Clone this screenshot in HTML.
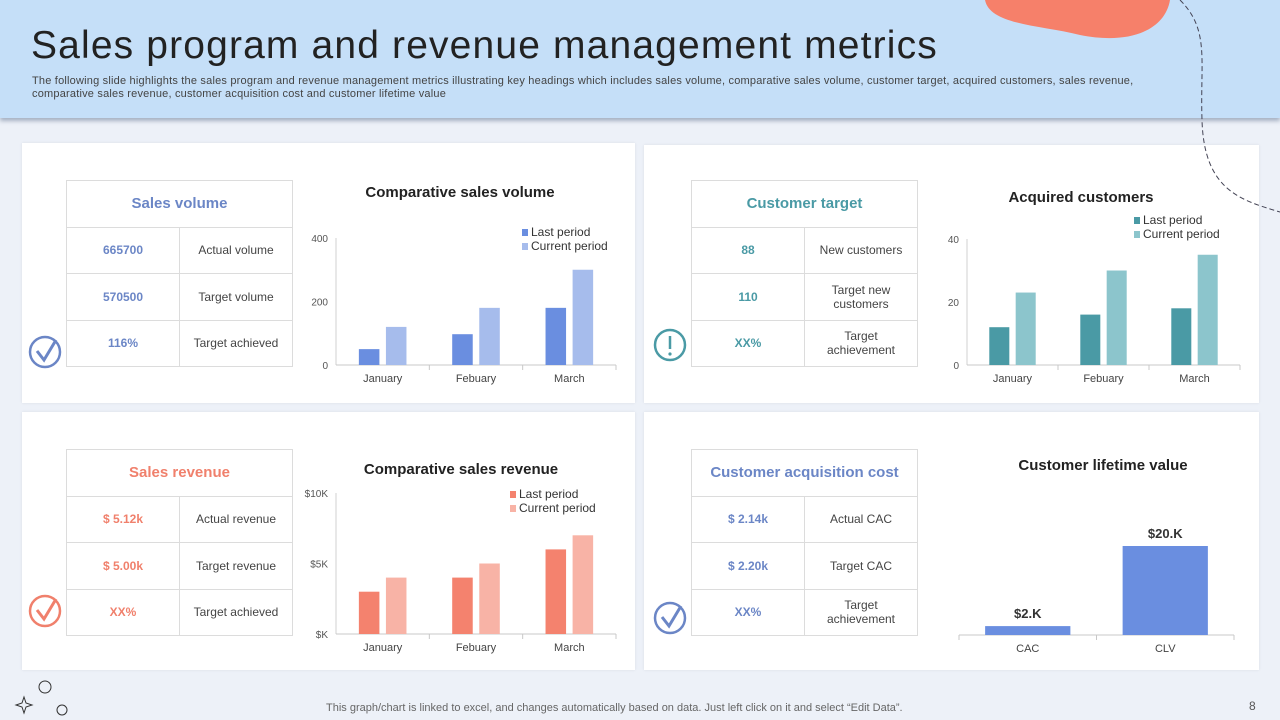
<!DOCTYPE html>
<html><head><meta charset="utf-8">
<style>
*{margin:0;padding:0;box-sizing:border-box}
body{width:1280px;height:720px;overflow:hidden;background:#edf1f8;font-family:"Liberation Sans",sans-serif;position:relative}
.hdr{position:absolute;left:0;top:0;width:1280px;height:118px;background:#c5dff8;box-shadow:0 3px 4px rgba(80,100,130,.45)}
.ttl{position:absolute;left:31px;top:24px;font-size:39px;color:#222;letter-spacing:1.15px;font-weight:normal}
.sub{position:absolute;left:32px;top:75px;width:1165px;font-size:11px;line-height:13px;color:#444;letter-spacing:0.2px}
.panel{position:absolute;background:#fff;box-shadow:0 0 3px rgba(0,0,0,.08)}
table{position:absolute;border-collapse:collapse;font-size:12px;color:#444}
td{border:1px solid #dcdcdc;text-align:center;height:46.5px;line-height:14px}
td.h{font-size:15px;font-weight:bold}
td.v{width:113px;font-weight:bold}
svg{position:absolute;left:0;top:0}
.foot{position:absolute;left:326px;top:702px;font-size:11px;color:#666}
.pg{position:absolute;left:1249px;top:699px;font-size:12px;color:#555}
</style></head><body>
<div class="hdr"></div>
<div class="ttl">Sales program and revenue management metrics</div>
<div class="sub">The following slide highlights the sales program and revenue management metrics illustrating key headings which includes sales volume, comparative sales volume, customer target, acquired customers, sales revenue, comparative sales revenue, customer acquisition cost and customer lifetime value</div>

<div class="panel" style="left:22px;top:143px;width:613px;height:260px"></div>
<div class="panel" style="left:644px;top:145px;width:615px;height:258px"></div>
<div class="panel" style="left:22px;top:412px;width:613px;height:258px"></div>
<div class="panel" style="left:644px;top:412px;width:615px;height:258px"></div>

<table style="left:66px;top:180px;width:227px">
<tr><td colspan="2" class="h" style="color:#6b86c6">Sales volume</td></tr>
<tr><td class="v" style="color:#6b86c6">665700</td><td>Actual volume</td></tr>
<tr><td class="v" style="color:#6b86c6">570500</td><td>Target volume</td></tr>
<tr><td class="v" style="color:#6b86c6">116%</td><td>Target achieved</td></tr></table>
<table style="left:691px;top:180px;width:227px">
<tr><td colspan="2" class="h" style="color:#4a9aa5">Customer target</td></tr>
<tr><td class="v" style="color:#4a9aa5">88</td><td>New customers</td></tr>
<tr><td class="v" style="color:#4a9aa5">110</td><td>Target new<br>customers</td></tr>
<tr><td class="v" style="color:#4a9aa5">XX%</td><td>Target<br>achievement</td></tr></table>
<table style="left:66px;top:449px;width:227px">
<tr><td colspan="2" class="h" style="color:#f0806c">Sales revenue</td></tr>
<tr><td class="v" style="color:#f0806c">$ 5.12k</td><td>Actual revenue</td></tr>
<tr><td class="v" style="color:#f0806c">$ 5.00k</td><td>Target revenue</td></tr>
<tr><td class="v" style="color:#f0806c">XX%</td><td>Target achieved</td></tr></table>
<table style="left:691px;top:449px;width:227px">
<tr><td colspan="2" class="h" style="color:#6b86c6">Customer acquisition cost</td></tr>
<tr><td class="v" style="color:#6b86c6">$ 2.14k</td><td>Actual CAC</td></tr>
<tr><td class="v" style="color:#6b86c6">$ 2.20k</td><td>Target CAC</td></tr>
<tr><td class="v" style="color:#6b86c6">XX%</td><td>Target<br>achievement</td></tr></table>

<svg id="s" width="1280" height="720" font-family="Liberation Sans, sans-serif">
<path d="M985 0 C990 25 1040 25 1080 35 C1130 45 1165 30 1170 0 Z" fill="#f6806a"/>
<path d="M1180 0 C1210 30 1200 60 1202 120 C1204 190 1240 200 1280 212" fill="none" stroke="#445" stroke-dasharray="5,3"/>
<g><circle cx="45" cy="352" r="15" fill="none" stroke="#6b86c6" stroke-width="2.5"/><path d="M37 351 L44 360 L56 340" fill="none" stroke="#6b86c6" stroke-width="3"/></g>
<g><circle cx="670" cy="345" r="15" fill="none" stroke="#4a9aa5" stroke-width="2.5"/><line x1="670" y1="336" x2="670" y2="349" stroke="#4a9aa5" stroke-width="2.5"/><circle cx="670" cy="354" r="1.6" fill="#4a9aa5"/></g>
<g><circle cx="45" cy="611" r="15" fill="none" stroke="#f0806c" stroke-width="2.5"/><path d="M37 610 L44 619 L56 599" fill="none" stroke="#f0806c" stroke-width="3"/></g>
<g><circle cx="670" cy="618" r="15" fill="none" stroke="#6b86c6" stroke-width="2.5"/><path d="M662 617 L669 626 L681 606" fill="none" stroke="#6b86c6" stroke-width="3"/></g>
<g><circle cx="45" cy="687" r="6" fill="none" stroke="#333"/><circle cx="62" cy="710" r="5" fill="none" stroke="#333"/><path d="M24 697 L26 703 L32 705 L26 707 L24 713 L22 707 L16 705 L22 703 Z" fill="none" stroke="#333"/></g>
</svg>
<div class="foot">This graph/chart is linked to excel, and changes automatically based on data. Just left click on it and select “Edit Data”.</div>
<div class="pg">8</div>

<script>
const months = ["January","Febuary","March"];
const volLast = [50,97,180];
const volCurrent = [120,180,300];
const volTicks = ["0","200","400"];
const custLast = [12,16,18];
const custCurrent = [23,30,35];
const custTicks = ["0","20","40"];
const revLast = [3,4,6];
const revCurrent = [4,5,7];
const revTicks = ["$K","$5K","$10K"];
const clvCats = ["CAC","CLV"];
const clvValues = [2,20];
const clvLabels = ["$2.K","$20.K"];

const svg = document.getElementById('s');
const NS = 'http://www.w3.org/2000/svg';
function mk(tag, attrs, parent){const e=document.createElementNS(NS,tag);for(const k in attrs)e.setAttribute(k,attrs[k]);(parent||svg).appendChild(e);return e;}
function txt(x,y,s,attrs,parent){const t=mk('text',Object.assign({x:x,y:y},attrs),parent);t.textContent=s;return t;}

function groupChart(c){
  const g=mk('g',{});
  
  
  const yS=v=>c.y0-(v/c.max)*(c.y0-c.yTop);
  const cw=(c.x1-c.x0)/c.cats.length;
  const tt=txt(c.titleX,c.titleY,c.title,{'font-size':15,'font-weight':'bold','fill':'#222','text-anchor':'middle'},g);
  
  
  mk('line',{x1:c.x0,y1:c.yTop,x2:c.x0,y2:c.y0,stroke:'#d0d0d0'},g);
  mk('line',{x1:c.x0,y1:c.y0,x2:c.x1,y2:c.y0,stroke:'#c8c8c8'},g);
  c.ticks.forEach((t,i)=>{
    const v=c.max*i/(c.ticks.length-1);
    const tl=txt(c.x0-8,yS(v)+4,t,{'font-size':10,'fill':'#555','text-anchor':'end'},g);
    
    
  });
  c.cats.forEach((cat,i)=>{
    mk('line',{x1:c.x0+cw*(i+1),y1:c.y0,x2:c.x0+cw*(i+1),y2:c.y0+5,stroke:'#c8c8c8'},g);
    const cl=txt(c.x0+cw*(i+0.5),c.y0+17,cat,{'font-size':11,'fill':'#444','text-anchor':'middle'},g);
    
    
    const bw=cw*0.22, gap=cw*0.07;
    const cx=c.x0+cw*(i+0.5);
    const b1=mk('rect',{x:cx-gap/2-bw,y:yS(c.a[i]),width:bw,height:c.y0-yS(c.a[i]),fill:c.colA},g);
    
    
    const b2=mk('rect',{x:cx+gap/2,y:yS(c.b[i]),width:bw,height:c.y0-yS(c.b[i]),fill:c.colB},g);
    
    
  });
  [['Last period',c.colA],['Current period',c.colB]].forEach((l,i)=>{
    const lg=mk('g',{},g);
    
    
    mk('rect',{x:c.legX,y:c.legY+i*14-7,width:6,height:7,fill:l[1]},lg);
    txt(c.legX+9,c.legY+i*14,l[0],{'font-size':12,'fill':'#333'},lg);
  });
}
groupChart({name:'comparative-sales-volume-chart',title:'Comparative sales volume',titleX:460,titleY:197,cats:months,a:volLast,b:volCurrent,ticks:volTicks,max:400,x0:336,x1:616,y0:365,yTop:238,colA:'#6a8ee0',colB:'#a6bcec',legX:522,legY:236});
groupChart({name:'acquired-customers-chart',title:'Acquired customers',titleX:1081,titleY:202,cats:months,a:custLast,b:custCurrent,ticks:custTicks,max:40,x0:967,x1:1240,y0:365,yTop:239,colA:'#4a9aa5',colB:'#8cc5cc',legX:1134,legY:224});
groupChart({name:'comparative-sales-revenue-chart',title:'Comparative sales revenue',titleX:461,titleY:474,cats:months,a:revLast,b:revCurrent,ticks:revTicks,max:10,x0:336,x1:616,y0:634,yTop:493,colA:'#f4826e',colB:'#f8b3a6',legX:510,legY:498});

(function(){
  const g=mk('g',{});
  
  
  const x0=959,x1=1234,y0=635,max=20,hMax=89;
  const yS=v=>y0-v/max*hMax;
  const cw=(x1-x0)/clvCats.length;
  const t=txt(1103,470,'Customer lifetime value',{'font-size':15,'font-weight':'bold','fill':'#222','text-anchor':'middle'},g);
  
  
  mk('line',{x1:x0,y1:y0,x2:x1,y2:y0,stroke:'#c8c8c8'},g);
  clvCats.forEach((c,i)=>{
    const cx=x0+cw*(i+0.5), bw=cw*0.62;
    const b=mk('rect',{x:cx-bw/2,y:yS(clvValues[i]),width:bw,height:y0-yS(clvValues[i]),fill:'#6a8ee0'},g);
    
    
    const vl=txt(cx,yS(clvValues[i])-8,clvLabels[i],{'font-size':13,'font-weight':'bold','fill':'#333','text-anchor':'middle'},g);
    
    
    const cl=txt(cx,y0+17,c,{'font-size':11,'fill':'#444','text-anchor':'middle'},g);
    
    
    mk('line',{x1:x0+cw*i,y1:y0,x2:x0+cw*i,y2:y0+5,stroke:'#c8c8c8'},g);
  });
  mk('line',{x1:x1,y1:y0,x2:x1,y2:y0+5,stroke:'#c8c8c8'},g);
})();
</script>
</body></html>
